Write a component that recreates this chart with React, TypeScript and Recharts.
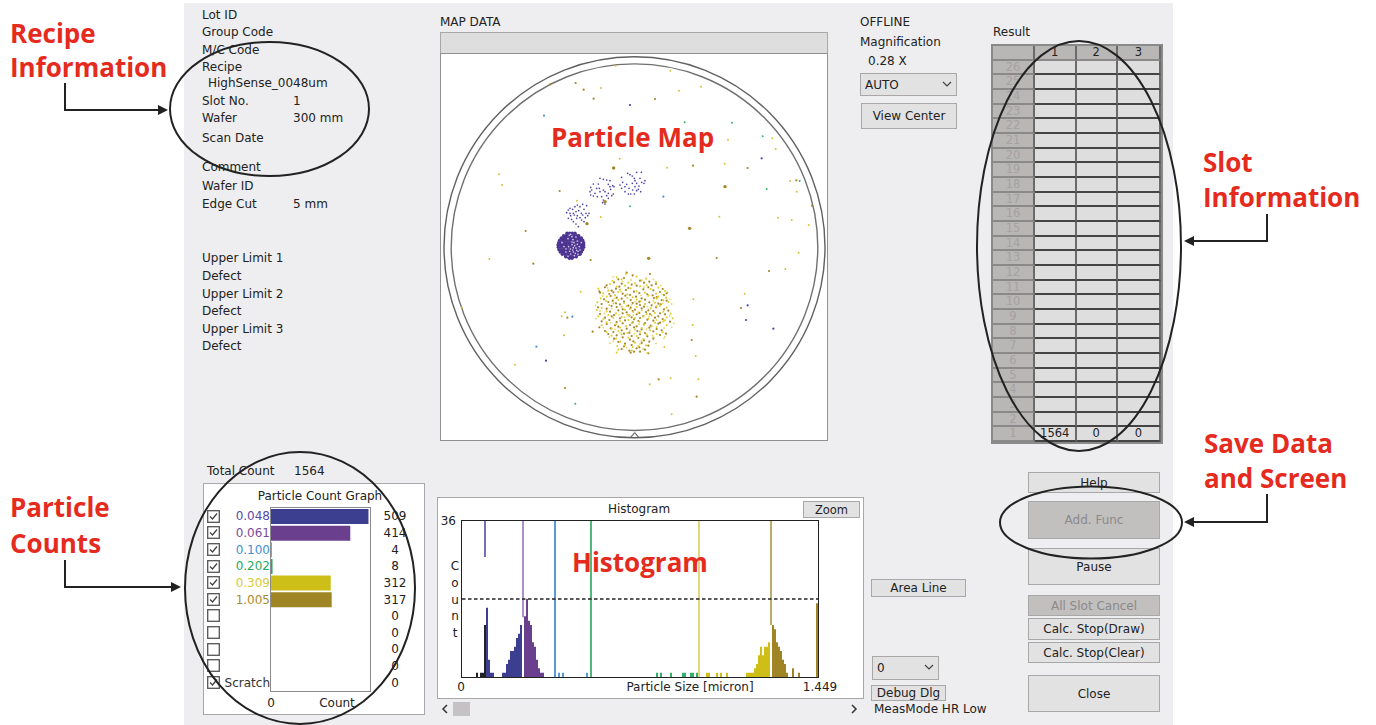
import React from 'react';
import {
  Bar,
  BarChart,
  Cell,
  ReferenceDot,
  ReferenceLine,
  Scatter,
  ScatterChart,
  XAxis,
  YAxis,
  ZAxis,
} from 'recharts';

const UI_FONT = '"DejaVu Sans", sans-serif';
const RED = '#e42b1e';

// ---- particle count graph
const sizeLabels = ['0.048', '0.061', '0.100', '0.202', '0.309', '1.005', '', '', '', '', 'Scratch'];
const sizeCounts = [509, 414, 4, 8, 312, 317, 0, 0, 0, 0, 0];
const sizeColors = ['#3c3f8f', '#6a3f8e', '#3f8fd0', '#25a95a', '#cdbf18', '#a08524', '#333', '#333', '#333', '#333', '#333'];
const labelColors = ['#5a4aa8', '#7d4aa0', '#3f8fd0', '#25a95a', '#d8c93a', '#a88c2c', '#333', '#333', '#333', '#333', '#333'];
const sizeChecked = [true, true, true, true, true, true, false, false, false, false, true];

// ---- histogram, one count per size bin (bins are not linear in microns)
const histCounts = [
  0, 0, 0, 0, 0, 0, 0, 1, 0, 1,
  1, 12, 16, 4, 1, 1, 0, 0, 0, 0,
  1, 1, 3, 4, 6, 6, 7, 9, 10, 12,
  0, 14, 18, 13, 12, 8, 7, 4, 2, 1,
  1, 0, 0, 0, 0, 0, 1, 0, 1, 0,
  1, 0, 0, 0, 0, 0, 0, 0, 0, 0,
  0, 0, 1, 0, 0, 0, 0, 0, 0, 0,
  0, 0, 0, 0, 0, 0, 0, 0, 0, 0,
  0, 0, 0, 0, 0, 0, 0, 0, 0, 0,
  0, 0, 0, 0, 0, 0, 0, 1, 0, 1,
  0, 0, 0, 0, 1, 0, 0, 0, 0, 0,
  1, 1, 0, 0, 1, 1, 0, 1, 0, 0,
  0, 0, 1, 1, 0, 0, 0, 1, 0, 1,
  0, 0, 1, 0, 0, 0, 0, 0, 0, 0,
  0, 0, 1, 1, 1, 1, 2, 3, 5, 7,
  5, 7, 7, 8, 0, 12, 11, 8, 7, 6,
  4, 3, 1, 0, 0, 2, 0, 0, 1, 0,
  0, 0, 0, 0, 0, 0, 0, 17,
];
const bandStarts = [0, 12, 31, 46, 65, 119, 155];
const bandColors = ['#222222', '#3c3f8f', '#6a3f8e', '#5b9bd5', '#34b06a', '#cdbf18', '#a08524'];
const thresholdBins = [11, 30, 46, 64, 118, 154];
const thresholdEnds = [27.7, 13.8, 0, 0, 0, 12];
const thresholdColors = ['#4a3fa0', '#8f6db5', '#5b9bd5', '#4fb87a', '#d9c84a', '#a8903a'];
const thresholdWidths = [1.5, 1.5, 2, 2, 1.5, 1.5];
const HIST_MAX = 36;
const AREA_LINE = 18;

// ---- slot table
const slotRows = [26, 25, 24, 23, 22, 21, 20, 19, 18, 17, 16, 15, 14, 13, 12, 11, 10, 9, 8, 7, 6, 5, 4, 3, 2, 1];
const slotOneValues = ['1564', '0', '0'];
const slotColumns = ['1', '2', '3'];

// ---- wafer map, stage coordinates
const yellowPoints = [
  [527, 47], [691, 62], [483, 114], [717, 122], [783, 110], [864, 269], [997, 265], [1007, 297], [854, 341],
  [539, 326], [681, 353], [177, 373], [186, 405], [411, 452], [482, 501], [838, 500], [1014, 503], [1055, 510],
  [1050, 393], [1070, 425], [1106, 525], [148, 627], [422, 725], [375, 787], [365, 799], [372, 856], [225, 944],
  [914, 731], [760, 748], [758, 825], [767, 918], [673, 891], [692, 985], [775, 988], [629, 1003], [695, 1093],
  [1076, 608], [1036, 657], [66, 773],
];
const brownPoints = [
  [331, 103], [407, 99], [431, 119], [461, 146], [645, 147], [759, 347], [923, 354],
  [359, 423], [257, 543], [1069, 391], [1116, 467], [280, 641], [452, 630],
  [830, 624], [987, 663], [903, 774], [382, 803], [458, 845], [755, 870], [656, 988], [770, 1040], [375, 1014],
];
const bigBrownPoints = [[626, 625], [495, 455], [441, 521], [855, 410], [749, 535], [521, 354]];
const bluePoints = [[312, 197], [670, 440], [397, 800], [289, 890]];
const greenPoints = [[734, 217], [876, 218], [746, 288], [968, 259], [980, 417], [570, 469], [1079, 393], [406, 1061]];
const navyPoints = [[570, 165], [965, 325], [318, 932], [923, 766], [918, 810], [1000, 836]];
const sparseClusterPoints = [
  [385, 480], [390, 490], [398, 478], [405, 470], [412, 465], [420, 470], [428, 463], [440, 467], [392, 497], [400, 490],
  [408, 485], [416, 482], [424, 490], [432, 478], [438, 490], [447, 490], [385, 505], [395, 508], [403, 495], [412, 497],
  [420, 503], [428, 495], [436, 503], [443, 497], [400, 515], [408, 522], [415, 530], [425, 510], [432, 515], [390, 475],
  [410, 505], [380, 488],
  [480, 385], [490, 388], [500, 390], [510, 392], [460, 402], [475, 402], [505, 403], [518, 407], [522, 410], [452, 412],
  [470, 415], [490, 420], [510, 410], [512, 418], [450, 425], [480, 425], [495, 425], [505, 430], [520, 432], [452, 435],
  [460, 438], [472, 440], [485, 440], [500, 437], [515, 437], [490, 450], [505, 445], [465, 430], [478, 415], [455, 420],
  [495, 462], [488, 458],
  [563, 370], [570, 374], [577, 378], [590, 367], [604, 367], [545, 382], [583, 385], [585, 392], [600, 385], [615, 392],
  [548, 397], [540, 405], [560, 403], [577, 400], [590, 400], [605, 397], [612, 400], [545, 415], [555, 410], [567, 415],
  [585, 410], [597, 408], [555, 425], [565, 432], [578, 420], [590, 422], [602, 425], [572, 432], [583, 432], [595, 418],
];
// rows: first number is y, the rest are x
const discRows = [
  [550, 381, 389, 397, 405],
  [557, 371, 379, 386, 394, 402, 410, 416],
  [564, 364, 371, 378, 386, 394, 402, 410, 418, 424],
  [571, 359, 366, 374, 382, 390, 398, 406, 414, 422, 428],
  [578, 356, 363, 371, 379, 387, 395, 403, 411, 419, 426, 431],
  [585, 354, 362, 370, 378, 386, 394, 402, 410, 418, 425, 431],
  [592, 355, 363, 371, 379, 387, 395, 403, 411, 419, 426, 431],
  [599, 357, 365, 373, 381, 389, 397, 405, 413, 421, 428],
  [606, 361, 369, 377, 385, 393, 401, 409, 417, 424],
  [613, 367, 375, 383, 391, 399, 407, 415, 420],
  [620, 377, 385, 393, 401, 409],
  [625, 388, 396],
];
const discSpecks = [
  [388, 556], [396, 560], [408, 561], [402, 578], [412, 573], [396, 584], [418, 590], [408, 594], [386, 590], [398, 600],
  [378, 606], [406, 610], [414, 604], [392, 612], [384, 619], [372, 590], [424, 578], [399, 569], [366, 578], [392, 553],
  [404, 587], [412, 583], [400, 593], [391, 597], [378, 597], [410, 601], [420, 600], [400, 606], [389, 604], [403, 617],
  [414, 613], [396, 576], [384, 566],
];
const blobBrownPoints = [
  [560, 668], [578, 676], [630, 672], [535, 688], [552, 684], [600, 692], [628, 695], [500, 706], [522, 697], [545, 701],
  [575, 704], [612, 698], [635, 706], [495, 712], [538, 710], [565, 714], [590, 707], [625, 712], [648, 702], [480, 728],
  [515, 722], [528, 716], [558, 720], [582, 725], [610, 718], [640, 721], [668, 717], [478, 724], [508, 732], [520, 727],
  [548, 731], [570, 735], [598, 729], [622, 733], [660, 726], [680, 730], [512, 738], [530, 743], [556, 737], [588, 740],
  [605, 745], [638, 736], [650, 741], [672, 735], [492, 748], [518, 752], [545, 746], [572, 750], [598, 755], [615, 749],
  [642, 744], [665, 750], [505, 756], [528, 760], [552, 755], [578, 759], [600, 765], [628, 757], [655, 761], [680, 752],
  [485, 762], [515, 768], [540, 763], [565, 767], [590, 761], [612, 770], [635, 766], [662, 763], [474, 772], [500, 776],
  [530, 771], [548, 778], [572, 773], [585, 779], [605, 775], [625, 781], [648, 772], [672, 778], [510, 785], [535, 781],
  [560, 787], [578, 783], [598, 789], [618, 786], [640, 783], [660, 790], [685, 782], [480, 792], [522, 795], [548, 790],
  [568, 797], [590, 793], [610, 798], [630, 792], [655, 799], [675, 793], [495, 803], [515, 799], [540, 805], [575, 802],
  [582, 808], [600, 804], [622, 809], [645, 803], [668, 807], [485, 814], [508, 810], [530, 816], [555, 811], [578, 817],
  [595, 813], [615, 819], [640, 812], [660, 818], [500, 822], [525, 826], [548, 820], [570, 825], [590, 829], [612, 823],
  [632, 827], [655, 821], [690, 815], [478, 832], [512, 835], [535, 830], [560, 836], [582, 832], [605, 838], [628, 833],
  [650, 837], [495, 843], [520, 846], [545, 841], [568, 848], [592, 843], [615, 849], [640, 844], [665, 841], [505, 852],
  [530, 856], [552, 851], [575, 858], [600, 853], [622, 859], [660, 855], [678, 851], [522, 866], [548, 862], [570, 869],
  [595, 864], [612, 871], [640, 866], [535, 876], [555, 881], [580, 874], [605, 879], [628, 875], [552, 889], [575, 885],
  [598, 892], [625, 887], [545, 897], [568, 902], [590, 895], [615, 899], [572, 908], [600, 905], [582, 905], [625, 910],
];
const blobYellowPoints = [
  [558, 672], [530, 682], [545, 688], [590, 680], [618, 686], [518, 693], [565, 698], [605, 691], [648, 696], [510, 702],
  [555, 707], [585, 700], [620, 705], [530, 710], [572, 715], [600, 709], [655, 713], [475, 716], [505, 722], [540, 719],
  [590, 724], [632, 717], [675, 723], [490, 730], [535, 726], [562, 733], [615, 728], [648, 731], [682, 727], [500, 740],
  [525, 736], [578, 742], [625, 737], [655, 740], [678, 743], [482, 745], [535, 750], [562, 744], [590, 748], [650, 746],
  [670, 751], [472, 757], [498, 753], [552, 759], [602, 754], [645, 758], [685, 756], [508, 765], [520, 760], [560, 768],
  [615, 762], [660, 767], [485, 774], [545, 770], [570, 777], [590, 771], [632, 775], [650, 769], [680, 773], [470, 780],
  [500, 784], [555, 779], [580, 786], [605, 781], [670, 785], [528, 790], [562, 794], [595, 787], [620, 792], [645, 789],
  [692, 791], [475, 799], [505, 795], [545, 801], [568, 796], [610, 800], [635, 796], [680, 802], [490, 807], [520, 803],
  [565, 810], [585, 804], [625, 806], [675, 811], [698, 805], [500, 817], [540, 813], [575, 819], [598, 815], [645, 818],
  [670, 814], [485, 826], [528, 823], [558, 828], [612, 824], [635, 829], [680, 825], [515, 836], [540, 833], [585, 838],
  [605, 834], [650, 831], [500, 846], [535, 843], [562, 849], [600, 845], [630, 841], [668, 847], [515, 857], [545, 853],
  [590, 858], [620, 854], [650, 852], [528, 866], [565, 863], [610, 867], [640, 862], [540, 875], [585, 878], [605, 873],
  [532, 888], [555, 885], [578, 891], [618, 886], [535, 899], [575, 902], [610, 897], [530, 908], [622, 909], [595, 888],
];
const blobPalePoints = [
  [520, 680], [573, 690], [640, 688], [503, 714], [548, 694], [612, 711], [662, 707], [488, 738], [543, 724], [603, 736],
  [667, 733], [690, 748], [467, 766], [523, 745], [585, 755], [640, 752], [695, 762], [480, 783], [515, 776], [575, 764],
  [622, 770], [668, 760], [493, 790], [537, 794], [580, 795], [627, 799], [689, 798], [468, 806], [512, 817], [553, 802],
  [597, 822], [650, 810], [702, 820], [490, 833], [525, 838], [570, 842], [620, 837], [672, 834], [695, 832], [508, 861],
  [540, 848], [583, 851], [637, 856], [675, 860], [520, 873], [560, 893], [600, 882], [648, 880], [672, 865], [510, 880],
];

const WAFER_CENTER = { x: 583.5, y: 591.6 };

const fromPairs = (pairs: number[][]) => pairs.map(([x, y]) => ({ x, y }));
const fromRows = (rows: number[][]) =>
  rows.flatMap(([y, ...xs]) => xs.map((x) => ({ x, y })));

const histData = histCounts.map((count, bin) => ({ bin, count }));
const sizeData = sizeCounts.map((count, row) => ({ row, count }));

function bandColor(bin: number) {
  let color = bandColors[0];
  bandStarts.forEach((start, i) => {
    if (bin >= start) color = bandColors[i];
  });
  return color;
}

const dot = (r: number, fill: string) => (props: any) => (
  <circle cx={props.cx} cy={props.cy} r={r} fill={fill} />
);

function Txt({
  x,
  y,
  children,
  color = '#222',
  size = 12,
  center,
}: {
  x: number;
  y: number;
  children: React.ReactNode;
  color?: string;
  size?: number;
  center?: boolean;
}) {
  return (
    <span
      style={{
        position: 'absolute',
        left: x,
        top: y,
        transform: center ? 'translate(-50%,-50%)' : 'translateY(-50%)',
        color,
        fontSize: size,
        whiteSpace: 'nowrap',
        lineHeight: 1,
      }}
    >
      {children}
    </span>
  );
}

function Box({
  x0,
  y0,
  x1,
  y1,
  fill = 'transparent',
  border = '1.5px solid #a8a8a8',
  children,
}: {
  x0: number;
  y0: number;
  x1: number;
  y1: number;
  fill?: string;
  border?: string;
  children?: React.ReactNode;
}) {
  return (
    <div
      style={{
        position: 'absolute',
        left: x0,
        top: y0,
        width: x1 - x0,
        height: y1 - y0,
        boxSizing: 'border-box',
        background: fill,
        border,
      }}
    >
      {children}
    </div>
  );
}

function Btn({
  x0,
  y0,
  x1,
  y1,
  label,
  disabled,
  size = 12,
}: {
  x0: number;
  y0: number;
  x1: number;
  y1: number;
  label: string;
  disabled?: boolean;
  size?: number;
}) {
  return (
    <Box x0={x0} y0={y0} x1={x1} y1={y1} fill={disabled ? '#c2bfbf' : '#e2e2e2'}>
      <div
        style={{
          height: '100%',
          display: 'flex',
          alignItems: 'center',
          justifyContent: 'center',
          color: disabled ? '#8c8a8a' : '#222',
          fontSize: size,
          whiteSpace: 'nowrap',
        }}
      >
        {label}
      </div>
    </Box>
  );
}

function Combo({ x0, y0, x1, y1, label }: { x0: number; y0: number; x1: number; y1: number; label: string }) {
  return (
    <Box x0={x0} y0={y0} x1={x1} y1={y1} fill="#e2e2e2">
      <span style={{ position: 'absolute', left: 4, top: 4, fontSize: 12, color: '#222' }}>{label}</span>
      <svg style={{ position: 'absolute', right: 4, top: 7 }} width="10" height="8">
        <polyline points="1,1 5,5 9,1" fill="none" stroke="#444" strokeWidth="1.2" />
      </svg>
    </Box>
  );
}

function Check({ y, checked }: { y: number; checked: boolean }) {
  return (
    <svg style={{ position: 'absolute', left: 207, top: y - 6.5 }} width="13" height="13">
      <rect x="0.7" y="0.7" width="11.6" height="11.6" fill="#fff" stroke="#555" strokeWidth="1.3" />
      {checked && <polyline points="3,6.5 5.5,9 10,3.5" fill="none" stroke="#444" strokeWidth="1.3" />}
    </svg>
  );
}

function Heading({ x, y, children }: { x: number; y: number; children: React.ReactNode }) {
  return (
    <span
      style={{
        position: 'absolute',
        left: x,
        top: y,
        transform: 'translateY(-50%)',
        fontFamily: '"Open Sans", sans-serif',
        fontWeight: 700,
        fontSize: 26,
        lineHeight: 1,
        color: RED,
        whiteSpace: 'nowrap',
      }}
    >
      {children}
    </span>
  );
}

function ParticleMap() {
  return (
    <ScatterChart width={386} height={386} margin={{ top: 0, right: 0, bottom: 0, left: 0 }}>
      <XAxis type="number" dataKey="x" domain={[3, 1161]} hide />
      <YAxis type="number" dataKey="y" domain={[12, 1170]} reversed hide />
      <ZAxis range={[6, 6]} />
      <ReferenceDot x={WAFER_CENTER.x} y={WAFER_CENTER.y} r={190.5} fill="none" stroke="#606060" strokeWidth={1.4} />
      <ReferenceDot x={WAFER_CENTER.x} y={WAFER_CENTER.y} r={183.3} fill="none" stroke="#707070" strokeWidth={1.4} />
      <ReferenceLine segment={[{ x: 568, y: 1162 }, { x: 598, y: 1162 }]} stroke="#fff" strokeWidth={2} />
      <ReferenceLine segment={[{ x: 572, y: 1162 }, { x: 584, y: 1148 }]} stroke="#707070" strokeWidth={1.2} />
      <ReferenceLine segment={[{ x: 584, y: 1148 }, { x: 596, y: 1162 }]} stroke="#707070" strokeWidth={1.2} />
      <Scatter data={fromRows(discRows)} shape={dot(1.75, '#4d3490')} isAnimationActive={false} />
      <Scatter data={fromPairs(discSpecks)} shape={dot(0.8, '#d9d2ee')} isAnimationActive={false} />
      <Scatter data={fromPairs(sparseClusterPoints)} shape={dot(0.85, '#4f46a8')} isAnimationActive={false} />
      <Scatter data={fromPairs(blobBrownPoints)} shape={dot(1.1, '#a5862a')} isAnimationActive={false} />
      <Scatter data={fromPairs(blobYellowPoints)} shape={dot(1.05, '#e0cf30')} isAnimationActive={false} />
      <Scatter data={fromPairs(blobPalePoints)} shape={dot(0.9, '#e6d860')} isAnimationActive={false} />
      <Scatter data={fromPairs(yellowPoints)} shape={dot(1, '#d9c23a')} isAnimationActive={false} />
      <Scatter data={fromPairs(brownPoints)} shape={dot(1.1, '#a5862a')} isAnimationActive={false} />
      <Scatter data={fromPairs(bigBrownPoints)} shape={dot(1.7, '#a5862a')} isAnimationActive={false} />
      <Scatter data={fromPairs(bluePoints)} shape={dot(1.1, '#4f8fd8')} isAnimationActive={false} />
      <Scatter data={fromPairs(greenPoints)} shape={dot(1, '#35b56b')} isAnimationActive={false} />
      <Scatter data={fromPairs(navyPoints)} shape={dot(1.1, '#4a3fb0')} isAnimationActive={false} />
    </ScatterChart>
  );
}

function Histogram() {
  return (
    <BarChart
      width={435}
      height={200}
      data={histData}
      barCategoryGap={0}
      margin={{ top: 21, right: 43, bottom: 0, left: 0 }}
    >
      <XAxis
        dataKey="bin"
        height={23}
        ticks={[0, histCounts.length - 1]}
        interval={0}
        tickLine={false}
        axisLine={false}
        tick={(p: any) => (
          <text x={p.x + (p.payload.value === 0 ? -2 : 3)} y={p.y + 6} textAnchor="middle" fontSize={12} fill="#222">
            {p.payload.value === 0 ? '0' : '1.449'}
          </text>
        )}
      />
      <YAxis
        width={36}
        domain={[0, HIST_MAX]}
        ticks={[HIST_MAX]}
        tickLine={false}
        axisLine={false}
        tickMargin={0}
        tick={{ fill: '#222', fontSize: 12 }}
      />
      <Bar dataKey="count" isAnimationActive={false}>
        {histData.map((d) => (
          <Cell key={d.bin} fill={bandColor(d.bin)} />
        ))}
      </Bar>
      {thresholdBins.map((bin, i) => (
        <ReferenceLine
          key={bin}
          segment={[
            { x: bin, y: HIST_MAX },
            { x: bin, y: thresholdEnds[i] },
          ]}
          stroke={thresholdColors[i]}
          strokeWidth={thresholdWidths[i]}
        />
      ))}
      <ReferenceLine y={AREA_LINE} stroke="#222" strokeWidth={1.3} strokeDasharray="3.5 2.5" />
    </BarChart>
  );
}

function CountGraph() {
  return (
    <BarChart
      width={210}
      height={214}
      layout="vertical"
      data={sizeData}
      barCategoryGap={1}
      margin={{ top: 8, right: 0, bottom: 2, left: 0 }}
    >
      <XAxis
        type="number"
        height={21}
        domain={[0, 517]}
        ticks={[0]}
        tickLine={false}
        axisLine={false}
        tickMargin={1}
        tick={{ fill: '#222', fontSize: 12 }}
      />
      <YAxis
        type="category"
        dataKey="row"
        width={61}
        interval={0}
        tickLine={false}
        axisLine={false}
        tick={(p: any) => (
          <text x={p.x + 7} y={p.y + 4} textAnchor="end" fontSize={12} fill={labelColors[p.payload.value]}>
            {sizeLabels[p.payload.value]}
          </text>
        )}
      />
      <YAxis
        yAxisId="counts"
        orientation="right"
        type="category"
        dataKey="row"
        width={50}
        interval={0}
        tickLine={false}
        axisLine={false}
        tick={(p: any) => (
          <text x={p.x + 17} y={p.y + 4} textAnchor="middle" fontSize={12} fill="#222">
            {sizeCounts[p.payload.value]}
          </text>
        )}
      />
      <Bar dataKey="count" isAnimationActive={false}>
        {sizeData.map((d) => (
          <Cell key={d.row} fill={sizeColors[d.row]} />
        ))}
      </Bar>
    </BarChart>
  );
}

function SlotTable() {
  const cell: React.CSSProperties = {
    boxSizing: 'border-box',
    borderRight: '2px solid #6a6a6a',
    borderBottom: '2px solid #444',
    fontSize: 11.5,
    textAlign: 'center',
    lineHeight: '13px',
    color: '#222',
    background: '#dedede',
  };
  const head: React.CSSProperties = { ...cell, background: '#b9b6b6', borderBottomColor: '#8a8888' };
  return (
    <div
      style={{
        position: 'absolute',
        left: 991,
        top: 44,
        width: 172,
        height: 400.4,
        boxSizing: 'border-box',
        border: '2px solid #8a8a8a',
        display: 'grid',
        gridTemplateColumns: '42px 41.5px 41.5px 1fr',
        gridAutoRows: '14.68px',
      }}
    >
      <div style={head} />
      {slotColumns.map((c) => (
        <div key={c} style={head}>
          {c}
        </div>
      ))}
      {slotRows.map((r) => (
        <React.Fragment key={r}>
          <div style={{ ...head, color: '#a5a2a2' }}>{r}</div>
          {slotColumns.map((c, i) => (
            <div key={c} style={cell}>
              {r === 1 ? slotOneValues[i] : ''}
            </div>
          ))}
        </React.Fragment>
      ))}
    </div>
  );
}

const infoLines: [number, number, string][] = [
  [202, 15, 'Lot ID'],
  [202, 32, 'Group Code'],
  [202, 49.5, 'M/C Code'],
  [202, 67, 'Recipe'],
  [208, 83, 'HighSense_0048um'],
  [202, 100.5, 'Slot No.'],
  [293, 100.5, '1'],
  [202, 118, 'Wafer'],
  [293, 118, '300 mm'],
  [202, 137.5, 'Scan Date'],
  [202, 167, 'Comment'],
  [202, 186, 'Wafer ID'],
  [202, 204, 'Edge Cut'],
  [293, 204, '5 mm'],
  [202, 258, 'Upper Limit 1'],
  [202, 276, 'Defect'],
  [202, 293.5, 'Upper Limit 2'],
  [202, 311, 'Defect'],
  [202, 329, 'Upper Limit 3'],
  [202, 346, 'Defect'],
];

const countLetters = ['C', 'o', 'u', 'n', 't'];

export default function App() {
  return (
    <div
      style={{
        position: 'fixed',
        left: 0,
        top: 0,
        width: 1376,
        height: 725,
        background: '#fff',
        overflow: 'hidden',
        fontFamily: UI_FONT,
      }}
    >
      <div style={{ position: 'absolute', left: 184, top: 3, width: 989, height: 722, background: '#eeeef0' }} />

      {infoLines.map(([x, y, t]) => (
        <Txt key={`${x}-${y}`} x={x} y={y}>
          {t}
        </Txt>
      ))}

      {/* map */}
      <Txt x={440} y={22}>MAP DATA</Txt>
      <Box x0={440} y0={32} x1={828} y1={54} fill="#dedede" />
      <Box x0={440} y0={53} x1={828} y1={441} fill="#fff" border="1.5px solid #909090" />
      <div style={{ position: 'absolute', left: 441, top: 54 }}>
        <ParticleMap />
      </div>

      {/* map controls */}
      <Txt x={860} y={22}>OFFLINE</Txt>
      <Txt x={860} y={42}>Magnification</Txt>
      <Txt x={868} y={61}>0.28 X</Txt>
      <Combo x0={860} y0={73} x1={957} y1={96} label="AUTO" />
      <Btn x0={861} y0={103} x1={957} y1={129} label="View Center" />

      {/* slots */}
      <Txt x={993} y={32}>Result</Txt>
      <SlotTable />

      {/* particle counts */}
      <Txt x={207} y={471}>Total Count</Txt>
      <Txt x={294} y={471}>1564</Txt>
      <Box x0={203} y0={483} x1={425} y1={715} fill="#fff" />
      <Txt x={320} y={496} center>Particle Count Graph</Txt>
      {sizeChecked.map((c, i) => (
        <Check key={i} y={516.3 + i * 16.6} checked={c} />
      ))}
      <Box x0={270} y0={507} x1={371} y1={692} border="1.5px solid #8c8c8c" />
      <div style={{ position: 'absolute', left: 210, top: 500 }}>
        <CountGraph />
      </div>
      <Txt x={337} y={703} center>Count</Txt>

      {/* histogram */}
      <Box x0={437} y0={497} x1={864} y1={699} fill="#fff" />
      <Txt x={639} y={509} center>Histogram</Txt>
      <Btn x0={803} y0={501} x1={860} y1={518} label="Zoom" size={11.5} />
      <Box x0={461} y0={520} x1={819} y1={678} border="1.5px solid #222" />
      <div style={{ position: 'absolute', left: 426, top: 500 }}>
        <Histogram />
      </div>
      {countLetters.map((l, i) => (
        <Txt key={i} x={455} y={566 + i * 16.8} center>
          {l}
        </Txt>
      ))}
      <Txt x={690} y={687} center>Particle Size [micron]</Txt>

      {/* scrollbar */}
      <svg style={{ position: 'absolute', left: 440, top: 702 }} width="420" height="15">
        <polyline points="7,3 3,7 7,11" fill="none" stroke="#333" strokeWidth="1.5" />
        <rect x="13" y="0" width="17" height="14" fill="#c4c2c4" />
        <polyline points="412,3 416,7 412,11" fill="none" stroke="#333" strokeWidth="1.5" />
      </svg>

      {/* right side buttons */}
      <Btn x0={871} y0={579} x1={966} y1={597} label="Area Line" />
      <Combo x0={872} y0={656} x1={939} y1={680} label="0" />
      <Btn x0={871} y0={685} x1={946} y1={701} label="Debug Dlg" />
      <Txt x={874} y={709}>MeasMode HR Low</Txt>
      <Btn x0={1028} y0={472} x1={1160} y1={493} label="Help" />
      <Btn x0={1028} y0={501} x1={1160} y1={539} label="Add. Func" disabled />
      <Btn x0={1028} y0={548} x1={1160} y1={585} label="Pause" />
      <Btn x0={1028} y0={595} x1={1160} y1={616} label="All Slot Cancel" disabled />
      <Btn x0={1028} y0={618} x1={1160} y1={640} label="Calc. Stop(Draw)" />
      <Btn x0={1028} y0={642} x1={1160} y1={663} label="Calc. Stop(Clear)" />
      <Btn x0={1028} y0={675} x1={1160} y1={712} label="Close" />

      {/* annotations */}
      <svg style={{ position: 'absolute', left: 0, top: 0 }} width="1376" height="725">
        <g fill="none" stroke="#222" strokeWidth="2">
          <ellipse cx="269.5" cy="109" rx="99.5" ry="67" />
          <ellipse cx="1079" cy="246" rx="102" ry="205" />
          <ellipse cx="1091" cy="522.5" rx="91" ry="36" />
          <ellipse cx="300" cy="588" rx="115" ry="136" />
          <polyline points="65,83 65,110 160,110" />
          <polyline points="1267,214 1267,241 1192,241" />
          <polyline points="1267,494 1267,522 1192,522" />
          <polyline points="65,560 65,587 173,587" />
        </g>
        <g fill="#222">
          <polygon points="168,110 158,105 158,115" />
          <polygon points="1184,241 1194,236 1194,246" />
          <polygon points="1184,522 1194,517 1194,527" />
          <polygon points="181,587 171,582 171,592" />
        </g>
      </svg>
      <Heading x={10} y={33}>Recipe</Heading>
      <Heading x={10} y={67}>Information</Heading>
      <Heading x={551} y={137}>Particle Map</Heading>
      <Heading x={1203} y={162}>Slot</Heading>
      <Heading x={1203} y={197}>Information</Heading>
      <Heading x={1204} y={443}>Save Data</Heading>
      <Heading x={1204} y={478}>and Screen</Heading>
      <Heading x={10} y={507}>Particle</Heading>
      <Heading x={10} y={543}>Counts</Heading>
      <Heading x={572} y={562}>Histogram</Heading>
    </div>
  );
}
